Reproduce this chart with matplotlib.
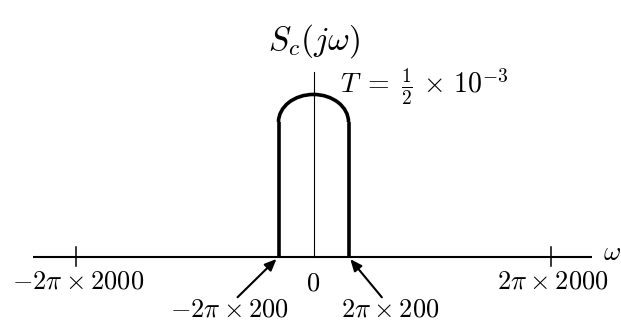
import matplotlib
matplotlib.use("Agg")
import matplotlib.pyplot as plt
import numpy as np
from matplotlib.patches import Arc

plt.rcParams["mathtext.fontset"] = "cm"

# frequencies in Hz (omega = 2*pi*f)
band_edge = 200
tick_freqs = [-2000, 2000]
tick_labels = [r"$-2\pi\times2000$", r"$2\pi\times2000$"]
edge_freqs = [-band_edge, band_edge]
edge_labels = [r"$-2\pi\times200$", r"$2\pi\times200$"]
axis_extent = [-2380, 2365]

# spectrum heights
wall_height = 1.0
peak_height = 1.204
y_axis_top = 1.37

# the passband is stretched so it stays readable next to +-2000
inner = 35.0 / band_edge
outer = 202.5 / (2000 - band_edge)


def fwd(x):
    x = np.asarray(x, dtype=float)
    a = np.abs(x)
    return np.sign(x) * np.where(a <= band_edge, a * inner,
                                 band_edge * inner + (a - band_edge) * outer)


def inv(u):
    u = np.asarray(u, dtype=float)
    a = np.abs(u)
    return np.sign(u) * np.where(a <= band_edge * inner, a / inner,
                                 band_edge + (a - band_edge * inner) / outer)


fig = plt.figure(figsize=(6.21, 3.24), dpi=100)
ax = fig.add_axes([0, 0, 1, 1])
ax.set_xscale("function", functions=(fwd, inv))
ax.set_xlim(float(inv(-313.5)), float(inv(307.5)))
ax.set_ylim(-67 / 135, 257 / 135)
ax.axis("off")

# axes
ax.plot(axis_extent, [0, 0], color="black", lw=1.5, solid_capstyle="butt")
ax.plot([0, 0], [0, y_axis_top], color="black", lw=0.8)
for f in tick_freqs:
    ax.plot([f, f], [-0.067, 0.074], color="black", lw=1.1)

# spectrum: vertical band edges capped by a rounded top
for f in edge_freqs:
    ax.plot([f, f], [0, wall_height], color="black", lw=2.6, solid_capstyle="butt")
ax.add_patch(Arc((0, wall_height), 2 * band_edge, 2 * (peak_height - wall_height),
                 theta1=0, theta2=180, color="black", lw=2.6))

# labels
ax.text(0, 1.533, r"$S_c(j\omega)$", fontsize=24, ha="center", va="baseline")
ax.annotate(r"$T\;=\;\frac{1}{2}\,\times\,10^{-3}$", xy=(0, 1.215), xytext=(19, 0),
            textcoords="offset points", fontsize=20, ha="left", va="baseline")
ax.annotate(r"$\omega$", xy=(axis_extent[1], 0), xytext=(14.5, 3),
            textcoords="offset points", fontsize=19, ha="center", va="center")

for f, lab in zip(tick_freqs, tick_labels):
    ax.annotate(lab, xy=(f, 0), xytext=(1.5, -23), textcoords="offset points",
                fontsize=19, ha="center", va="baseline")
ax.annotate(r"$0$", xy=(0, 0), xytext=(0, -24), textcoords="offset points",
            fontsize=19, ha="center", va="baseline")

label_offsets = [(-35, -43), (30, -43)]
arrow_tails = [(-29.5, -29), (24, -29)]
for f, lab, off, tail in zip(edge_freqs, edge_labels, label_offsets, arrow_tails):
    ax.annotate(lab, xy=(f, 0), xytext=off, textcoords="offset points",
                fontsize=19, ha="center", va="baseline")
    ax.annotate("", xy=(f, 0), xytext=tail, textcoords="offset points",
                arrowprops=dict(arrowstyle="-|>,head_length=0.35,head_width=0.15",
                                mutation_scale=20, color="black", lw=1.5,
                                shrinkA=0, shrinkB=2))

fig.savefig("out.png", dpi=100, facecolor="white")
